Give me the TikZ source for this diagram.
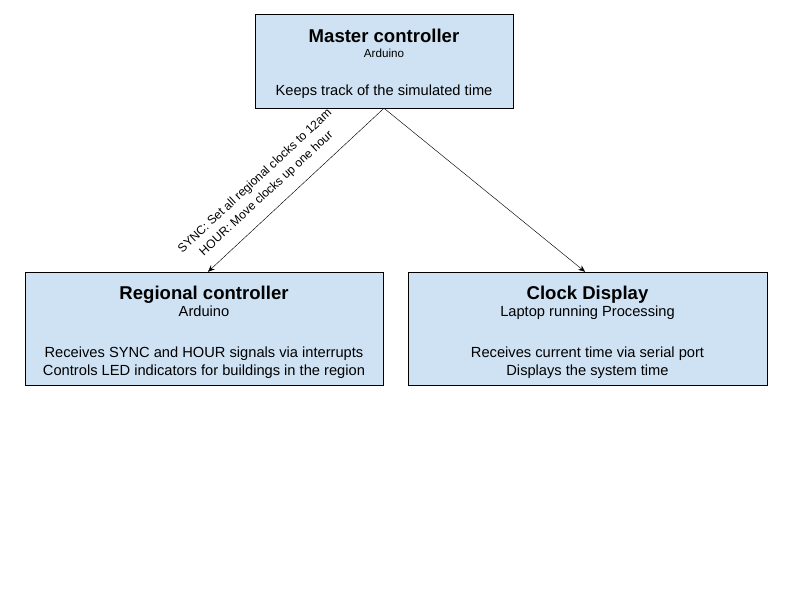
\documentclass[tikz,border=0pt]{standalone}
\usepackage{fontspec}
\setmainfont{Liberation Sans}
\usepackage{tikz}
\usetikzlibrary{arrows.meta,positioning}
\definecolor{boxblue}{RGB}{207,226,243}
\tikzstyle{unit} = [draw=black, fill=boxblue, align=center, inner sep=0pt, font=\fontsize{13.2}{16.2}\selectfont]
\tikzstyle{arrow} = [thin,-{Stealth[length=6pt,width=5pt]}]
\newcommand{\unittitle}[2]{\rule{0pt}{#1}{\fontsize{16.7}{19}\selectfont\bfseries #2}}
\newcommand{\unitsub}[1]{{\fontsize{10.5}{12}\selectfont #1}}

\begin{document}
\begin{tikzpicture}[x=0.9pt, y=-0.9pt]
\useasboundingbox[fill=white] (0,0) rectangle (800,600);
% Master controller
\node[unit, minimum width=258*0.9pt, minimum height=94*0.9pt] (master) at (384,61)
  {\unittitle{17pt}{Master controller}\\[-2pt] \unitsub{Arduino}\\[18pt] Keeps track of the simulated time};

% Regional controller
\node[unit, minimum width=358*0.9pt, minimum height=113*0.9pt] (regional) at (204,328.5)
  {\unittitle{19.5pt}{Regional controller}\\[-1pt] Arduino\\[21pt] Receives SYNC and HOUR signals via interrupts\\ Controls LED indicators for buildings in the region};

% Clock display
\node[unit, minimum width=359*0.9pt, minimum height=113*0.9pt] (clock) at (587.5,328.5)
  {\unittitle{19.5pt}{Clock Display}\\[-1pt] Laptop running Processing\\[21pt] Receives current time via serial port\\ Displays the system time};

% Signals
\draw[arrow] (master.south) -- node[pos=0.6, sloped, above=7pt, align=center, font=\fontsize{10.9}{15}\selectfont] {SYNC: Set all regional clocks to 12am\\ HOUR: Move clocks up one hour} ([xshift=3.6pt]regional.north);
\draw[arrow] (master.south) -- ([xshift=-2.2pt]clock.north);
\end{tikzpicture}
\end{document}
